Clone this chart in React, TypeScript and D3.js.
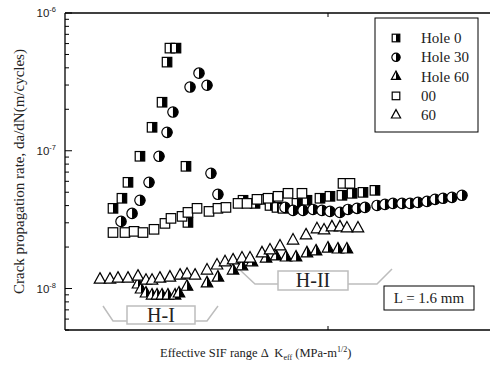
import React, { useRef, useEffect } from 'react';
import * as d3 from 'd3';

// x: effective SIF range (arbitrary linear units), y: da/dN
const hole0X = [3.65, 4.33, 4.79, 5.7, 6.62, 7.38, 7.76, 7.98, 8.44, 9.2, 9.35, 13.54, 14.45, 15.06, 15.59, 16.12, 16.58, 17.64, 18.4, 19.39, 20.15, 21.06, 21.83, 22.66, 23.57];
const hole0Y = [3.82e-8, 4.52e-8, 5.9e-8, 9.12e-8, 1.48e-7, 2.25e-7, 4.4e-7, 5.56e-7, 5.56e-7, 7.71e-8, 3.02e-8, 4.37e-8, 4.15e-8, 4.44e-8, 4.01e-8, 3.88e-8, 3.82e-8, 4.15e-8, 4.37e-8, 4.52e-8, 4.67e-8, 4.75e-8, 4.91e-8, 4.99e-8, 5.16e-8];

const hole30X = [4.26, 5.1, 5.7, 6.39, 7.15, 7.76, 8.21, 9.51, 10.19, 10.8, 11.1, 11.63, 16.73, 17.34, 18.1, 18.86, 19.54, 20.15, 20.91, 21.52, 22.21, 22.81, 23.73, 24.33, 24.94, 25.63, 26.24, 26.84, 27.53, 28.14, 28.75, 29.43, 30.19];
const hole30Y = [3.07e-8, 3.51e-8, 4.37e-8, 5.9e-8, 9.12e-8, 1.36e-7, 1.91e-7, 2.9e-7, 3.66e-7, 2.99e-7, 6.86e-8, 4.83e-8, 3.88e-8, 3.69e-8, 3.69e-8, 3.75e-8, 3.69e-8, 3.63e-8, 3.57e-8, 3.75e-8, 3.82e-8, 3.88e-8, 4.01e-8, 4.08e-8, 4.15e-8, 4.15e-8, 4.15e-8, 4.22e-8, 4.29e-8, 4.44e-8, 4.52e-8, 4.59e-8, 4.75e-8];

const hole60X = [5.55, 5.78, 6.16, 6.62, 7.0, 7.38, 7.83, 8.37, 8.67, 9.28, 10.8, 11.63, 12.78, 13.46, 14.22, 15.29, 16.05, 16.81, 17.57, 18.4, 19.09, 20.0, 20.76, 21.44];
const hole60Y = [1.07e-8, 9.84e-9, 9.2e-9, 8.89e-9, 8.89e-9, 8.89e-9, 8.89e-9, 8.89e-9, 9.2e-9, 1.03e-8, 1.09e-8, 1.2e-8, 1.35e-8, 1.45e-8, 1.55e-8, 1.65e-8, 1.71e-8, 1.68e-8, 1.68e-8, 1.8e-8, 1.86e-8, 1.95e-8, 1.92e-8, 1.92e-8];

const open00X = [3.65, 4.56, 5.25, 5.93, 6.77, 7.6, 8.06, 8.9, 9.35, 10.04, 10.95, 11.63, 12.24, 13.16, 13.84, 14.6, 15.44, 16.2, 16.96, 18.02, 21.14, 21.67];
const open00Y = [2.55e-8, 2.55e-8, 2.6e-8, 2.55e-8, 2.69e-8, 2.97e-8, 3.23e-8, 3.34e-8, 3.57e-8, 3.82e-8, 3.63e-8, 3.82e-8, 3.88e-8, 4.15e-8, 4.15e-8, 4.44e-8, 4.52e-8, 4.67e-8, 4.91e-8, 4.91e-8, 5.8e-8, 5.8e-8];

const open60X = [2.66, 3.42, 4.03, 4.79, 5.55, 6.16, 6.62, 7.22, 7.98, 8.75, 9.28, 9.89, 10.8, 11.56, 12.17, 12.78, 13.46, 14.07, 14.98, 15.59, 16.35, 17.34, 18.33, 19.16, 19.7, 20.3, 20.91, 21.44, 22.28];
const open60Y = [1.16e-8, 1.16e-8, 1.18e-8, 1.18e-8, 1.22e-8, 1.14e-8, 1.14e-8, 1.18e-8, 1.2e-8, 1.24e-8, 1.26e-8, 1.24e-8, 1.35e-8, 1.47e-8, 1.55e-8, 1.6e-8, 1.65e-8, 1.65e-8, 1.8e-8, 1.89e-8, 2.02e-8, 2.23e-8, 2.43e-8, 2.69e-8, 2.64e-8, 2.78e-8, 2.78e-8, 2.73e-8, 2.73e-8];

const legendLabels = ['Hole 0', 'Hole 30', 'Hole 60', '00', '60'];
const yMajor = [1e-8, 1e-7, 1e-6];
const yExp = ['-8', '-7', '-6'];

type Kind = 'halfSquare' | 'halfCircle' | 'halfTriangle' | 'square' | 'triangle';

const serif = 'Liberation Serif, Times New Roman, serif';

const drawMarker = (g: d3.Selection<SVGGElement, unknown, null, undefined>, kind: Kind, x: number, y: number, k = 1) => {
  const m = g.append('g').attr('transform', `translate(${x},${y})`);
  const sw = 1.2;
  if (kind === 'halfSquare' || kind === 'square') {
    const s = 9.5 * k;
    m.append('rect').attr('x', -s / 2).attr('y', -s / 2).attr('width', s).attr('height', s)
      .attr('fill', '#fff').attr('stroke', '#000').attr('stroke-width', sw);
    if (kind === 'halfSquare') {
      m.append('rect').attr('x', 0).attr('y', -s / 2).attr('width', s / 2).attr('height', s).attr('fill', '#000');
    }
  } else if (kind === 'halfCircle') {
    const r = 5.2 * k;
    m.append('circle').attr('r', r).attr('fill', '#fff').attr('stroke', '#000').attr('stroke-width', sw);
    m.append('path').attr('d', `M0,${-r}A${r},${r} 0 0 1 0,${r}Z`).attr('fill', '#000');
  } else {
    const w = 11.5 * k, h = 10.5 * k;
    m.append('path').attr('d', `M0,${-2 * h / 3}L${w / 2},${h / 3}L${-w / 2},${h / 3}Z`)
      .attr('fill', '#fff').attr('stroke', '#000').attr('stroke-width', sw);
    if (kind === 'halfTriangle') {
      m.append('path').attr('d', `M0,${-2 * h / 3}L${w / 2},${h / 3}L0,${h / 3}Z`).attr('fill', '#000');
    }
  }
};

const App: React.FC = () => {
  const svgRef = useRef<SVGSVGElement | null>(null);

  useEffect(() => {
    if (!svgRef.current) return;
    const svg = d3.select(svgRef.current);
    svg.selectAll('*').remove();

    const left = 65, top = 13, bottom = 330, right = 591;
    const x = d3.scaleLinear().domain([0, 40]).range([left, right]);
    const y = d3.scaleLog().domain([5e-9, 1e-6]).range([bottom, top]);

    const g = svg.append('g') as unknown as d3.Selection<SVGGElement, unknown, null, undefined>;

    // frame
    g.append('line').attr('x1', left).attr('x2', 490).attr('y1', top).attr('y2', top).attr('stroke', '#000').attr('stroke-width', 1.3);
    g.append('line').attr('x1', left).attr('x2', 490).attr('y1', bottom).attr('y2', bottom).attr('stroke', '#000').attr('stroke-width', 1.3);
    g.append('line').attr('x1', left).attr('x2', left).attr('y1', top).attr('y2', bottom).attr('stroke', '#000').attr('stroke-width', 1.3);

    // y ticks (inside)
    const minor: number[] = [];
    for (let e = -9; e <= -7; e++) for (let m = 2; m <= 9; m++) {
      const v = m * Math.pow(10, e);
      if (v >= 5e-9 && v < 1e-6) minor.push(v);
    }
    minor.forEach(v => {
      g.append('line').attr('x1', left).attr('x2', left + 4).attr('y1', y(v)).attr('y2', y(v)).attr('stroke', '#000');
    });
    yMajor.forEach((v, i) => {
      g.append('line').attr('x1', left).attr('x2', left + 7).attr('y1', y(v)).attr('y2', y(v)).attr('stroke', '#000');
      const t = g.append('text').attr('x', 56).attr('y', y(v) + 4).attr('text-anchor', 'end')
        .attr('font-family', 'Liberation Sans, Arial, sans-serif').attr('font-size', 11.5).attr('fill', '#222');
      t.append('tspan').text('10');
      t.append('tspan').attr('dy', -5).attr('font-size', 7.5).text(yExp[i]);
    });
    // x ticks
    [20].forEach(v => {
      g.append('line').attr('x1', x(v)).attr('x2', x(v)).attr('y1', bottom).attr('y2', bottom - 4).attr('stroke', '#000');
      g.append('line').attr('x1', x(v)).attr('x2', x(v)).attr('y1', top).attr('y2', top + 4).attr('stroke', '#000');
    });

    // axis titles
    g.append('text').attr('transform', `translate(24,${(top + bottom) / 2}) rotate(-90)`)
      .attr('text-anchor', 'middle').attr('font-family', serif)
      .attr('font-size', 15).attr('fill', '#222').text('Crack propagation rate, da/dN(m/cycles)');
    const xl = g.append('text').attr('x', 160).attr('y', 357).attr('font-family', serif)
      .attr('font-size', 12.5).attr('fill', '#222').style('white-space', 'pre');
    xl.append('tspan').attr('font-family', serif).text('Effective SIF range \u0394  K');
    xl.append('tspan').attr('font-family', serif).attr('dy', 3).attr('font-size', 8).text('eff');
    xl.append('tspan').attr('font-family', serif).attr('dy', -3).text(' (MPa-m');
    xl.append('tspan').attr('font-family', serif).attr('dy', -5).attr('font-size', 8).text('1/2');
    xl.append('tspan').attr('font-family', serif).attr('dy', 5).text(')');

    // annotations
    const gray = '#bdbdbd';
    const ann = (pts: [number, number][]) => g.append('path').attr('d', d3.line()(pts)).attr('fill', 'none').attr('stroke', gray).attr('stroke-width', 1.5);
    ann([[103, 306], [113, 321], [127, 321]]);
    ann([[195, 321], [207, 321], [218, 306]]);
    g.append('rect').attr('x', 127).attr('y', 306).attr('width', 68).attr('height', 18).attr('fill', '#fff').attr('stroke', gray).attr('stroke-width', 1.5);
    g.append('text').attr('x', 161).attr('y', 322).attr('text-anchor', 'middle').attr('font-family', serif).attr('font-size', 20).attr('fill', '#222').text('H-I');
    ann([[240, 270], [255, 284], [278, 284]]);
    ann([[348, 284], [377, 284], [392, 269]]);
    g.append('rect').attr('x', 278).attr('y', 271).attr('width', 70).attr('height', 19).attr('fill', '#fff').attr('stroke', gray).attr('stroke-width', 1.5);
    g.append('text').attr('x', 313).attr('y', 287).attr('text-anchor', 'middle').attr('font-family', serif).attr('font-size', 20).attr('fill', '#222').text('H-II');
    g.append('rect').attr('x', 384).attr('y', 286).attr('width', 90).attr('height', 24).attr('fill', '#fff').attr('stroke', '#000').attr('stroke-width', 1);
    g.append('text').attr('x', 429).attr('y', 303).attr('text-anchor', 'middle').attr('font-family', serif).attr('font-size', 15).attr('fill', '#222').text('L = 1.6 mm');

    // data
    const series: { xs: number[]; ys: number[]; kind: Kind }[] = [
      { xs: hole0X, ys: hole0Y, kind: 'halfSquare' },
      { xs: hole30X, ys: hole30Y, kind: 'halfCircle' },
      { xs: hole60X, ys: hole60Y, kind: 'halfTriangle' },
      { xs: open00X, ys: open00Y, kind: 'square' },
      { xs: open60X, ys: open60Y, kind: 'triangle' },
    ];
    series.forEach(s => s.xs.forEach((v, i) => drawMarker(g, s.kind, x(v), y(s.ys[i]))));

    // legend
    g.append('rect').attr('x', 375).attr('y', 18).attr('width', 103).attr('height', 114).attr('fill', '#fff').attr('stroke', '#000').attr('stroke-width', 1);
    series.forEach((s, i) => {
      const ly = 38 + i * 19.3;
      drawMarker(g, s.kind, 396, ly, 0.8);
      g.append('text').attr('x', 421).attr('y', ly + 5).attr('font-family', serif)
        .attr('font-size', 15).attr('fill', '#222').text(legendLabels[i]);
    });
  }, []);

  return (
    <svg ref={svgRef} width={490} height={365}
      style={{ position: 'absolute', left: 0, top: 0, background: '#fff' }} />
  );
};

export default App;
